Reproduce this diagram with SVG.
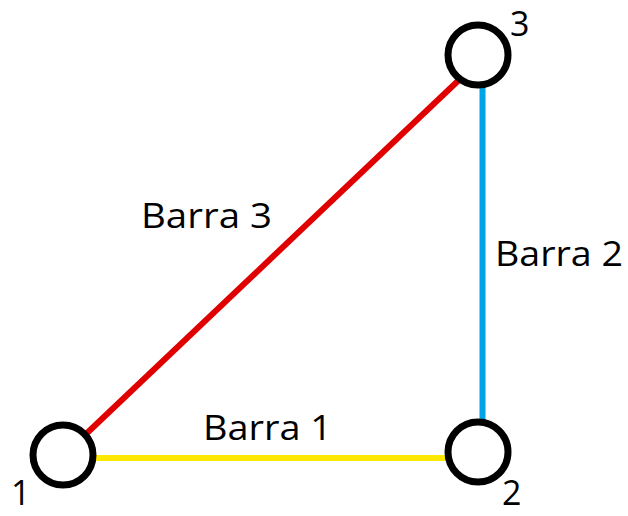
<svg xmlns="http://www.w3.org/2000/svg" width="628" height="516" viewBox="0 0 628 516">
<style>
.t{font-family:"Open Sans","Liberation Sans",Arial,sans-serif;font-size:34px;fill:#000}
.d{font-size:34px}
.n{fill:#fff;stroke:#000;stroke-width:7}
.e{stroke-width:6;stroke-linecap:butt;fill:none}
</style>
<rect width="628" height="516" fill="#fff"/>
<g id="connectors">
<line id="barra1" class="e" x1="95" y1="458" x2="446" y2="458" stroke="#ffe800"/>
<line id="barra2" class="e" x1="482.5" y1="86" x2="482.5" y2="421" stroke="#00a2e8" stroke-width="7"/>
<line id="barra3" class="e" x1="86" y1="434" x2="460" y2="79" stroke="#e00000" stroke-width="7"/>
</g>
<g id="node1"><circle class="n" cx="63" cy="455" r="30"/><text class="t d" x="11" y="505">1</text></g>
<g id="node2"><circle class="n" cx="478" cy="452" r="30"/><text class="t d" x="502" y="505">2</text></g>
<g id="node3"><circle class="n" cx="478" cy="55" r="30"/><text class="t d" x="510" y="36">3</text></g>
<g id="labels">
<text class="t" x="141" y="228" textLength="131" lengthAdjust="spacingAndGlyphs">Barra 3</text>
<text class="t" x="495" y="266" textLength="128" lengthAdjust="spacingAndGlyphs">Barra 2</text>
<text class="t" x="203" y="440" textLength="129" lengthAdjust="spacingAndGlyphs">Barra 1</text>
</g>
</svg>
